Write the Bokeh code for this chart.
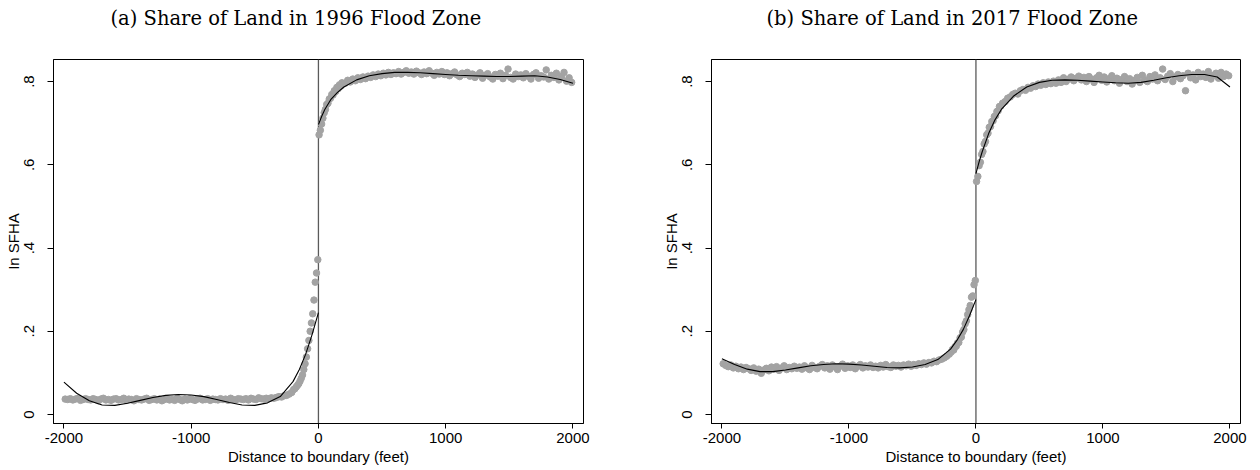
from bokeh.plotting import figure
from bokeh.layouts import row
from bokeh.models import Span, FixedTicker, Title
from bokeh.embed import file_html
from bokeh.resources import INLINE

# ---------------- data ----------------
TITLES = ["(a) Share of Land in 1996 Flood Zone", "(b) Share of Land in 2017 Flood Zone"]
X_LABEL = "Distance to boundary (feet)"
Y_LABEL = "In SFHA"
X_TICKS = [-2000, -1000, 0, 1000, 2000]
X_TICK_LABELS = ["-2000", "-1000", "0", "1000", "2000"]
Y_TICKS = [0, 0.2, 0.4, 0.6, 0.8]
Y_TICK_LABELS = ["0", ".2", ".4", ".6", ".8"]

# bin centres (feet): coarse 20-ft bins far from the boundary, 10-ft bins near it
BINS_LEFT = list(range(-1990, -209, 20)) + list(range(-195, 0, 10))
BINS_RIGHT = list(range(5, 200, 10)) + list(range(210, 2000, 20))

# panel (a) binned means
a_left = [
    0.037, 0.036, 0.038, 0.035, 0.037, 0.039, 0.034, 0.036, 0.038, 0.036,
    0.035, 0.038, 0.036, 0.033, 0.037, 0.039, 0.035, 0.036, 0.034, 0.037,
    0.038, 0.035, 0.036, 0.039, 0.034, 0.037, 0.036, 0.033, 0.038, 0.036,
    0.035, 0.037, 0.039, 0.034, 0.036, 0.038, 0.035, 0.037, 0.033, 0.036,
    0.038, 0.035, 0.036, 0.034, 0.039, 0.036, 0.033, 0.037, 0.035, 0.038,
    0.036, 0.034, 0.037, 0.039, 0.035, 0.036, 0.038, 0.034, 0.037, 0.036,
    0.035, 0.038, 0.036, 0.037, 0.034, 0.039, 0.036, 0.035, 0.038, 0.037,
    0.036, 0.038, 0.035, 0.039, 0.037, 0.036, 0.040, 0.038, 0.037, 0.039,
    0.038, 0.040, 0.039, 0.041, 0.043, 0.042, 0.045, 0.046, 0.049, 0.053,
    0.060, 0.062, 0.066, 0.070, 0.074, 0.080, 0.087, 0.095, 0.108, 0.122,
    0.138, 0.158, 0.178, 0.200, 0.220, 0.242, 0.275, 0.318, 0.340, 0.372,
]
a_right = [
    0.672, 0.683, 0.698, 0.712, 0.725, 0.733, 0.745, 0.748, 0.758, 0.760,
    0.769, 0.768, 0.778, 0.776, 0.786, 0.783, 0.792, 0.789, 0.797, 0.794,
    0.796, 0.803, 0.799, 0.806, 0.802, 0.809, 0.805, 0.811, 0.807, 0.813,
    0.810, 0.816, 0.812, 0.818, 0.814, 0.820, 0.816, 0.822, 0.817, 0.821,
    0.819, 0.824, 0.818, 0.822, 0.826, 0.820, 0.823, 0.818, 0.825, 0.821,
    0.817, 0.823, 0.819, 0.826, 0.820, 0.815, 0.822, 0.818, 0.824, 0.817,
    0.821, 0.814, 0.819, 0.823, 0.816, 0.812, 0.820, 0.817, 0.822, 0.813,
    0.818, 0.810, 0.816, 0.821, 0.808, 0.815, 0.819, 0.811, 0.806, 0.817,
    0.813, 0.820, 0.807, 0.815, 0.830, 0.810, 0.806, 0.818, 0.812, 0.816,
    0.809, 0.819, 0.813, 0.806, 0.817, 0.821, 0.808, 0.814, 0.811, 0.828,
    0.806, 0.815, 0.810, 0.820, 0.804, 0.812, 0.822, 0.801, 0.809, 0.798,
]

# panel (b) binned means
b_left = [
    0.122, 0.118, 0.115, 0.119, 0.112, 0.116, 0.110, 0.114, 0.108, 0.113,
    0.110, 0.106, 0.112, 0.104, 0.109, 0.099, 0.107, 0.111, 0.105, 0.114,
    0.109, 0.115, 0.106, 0.112, 0.117, 0.108, 0.113, 0.110, 0.116, 0.111,
    0.114, 0.109, 0.117, 0.112, 0.108, 0.118, 0.113, 0.110, 0.116, 0.120,
    0.112, 0.117, 0.109, 0.119, 0.114, 0.108, 0.116, 0.121, 0.111, 0.117,
    0.113, 0.119, 0.110, 0.116, 0.120, 0.112, 0.117, 0.114, 0.119, 0.113,
    0.116, 0.112, 0.118, 0.114, 0.120, 0.115, 0.113, 0.119, 0.116, 0.118,
    0.114, 0.119, 0.117, 0.121, 0.116, 0.120, 0.118, 0.122, 0.120, 0.124,
    0.121, 0.125, 0.124, 0.128, 0.127, 0.131, 0.133, 0.136, 0.140, 0.145,
    0.150, 0.156, 0.155, 0.163, 0.164, 0.172, 0.173, 0.184, 0.186, 0.198,
    0.204, 0.218, 0.225, 0.240, 0.252, 0.262, 0.282, 0.285, 0.312, 0.322,
]
b_right = [
    0.560, 0.572, 0.598, 0.606, 0.625, 0.632, 0.650, 0.656, 0.672, 0.676,
    0.690, 0.692, 0.704, 0.706, 0.716, 0.718, 0.728, 0.730, 0.740, 0.741,
    0.748, 0.752, 0.760, 0.763, 0.769, 0.772, 0.770, 0.778, 0.781, 0.779,
    0.786, 0.784, 0.790, 0.788, 0.794, 0.791, 0.797, 0.793, 0.799, 0.795,
    0.801, 0.796, 0.804, 0.798, 0.809, 0.800, 0.806, 0.811, 0.802, 0.808,
    0.813, 0.804, 0.810, 0.800, 0.812, 0.806, 0.798, 0.809, 0.815, 0.803,
    0.811, 0.799, 0.807, 0.814, 0.802, 0.808, 0.796, 0.805, 0.812, 0.800,
    0.807, 0.794, 0.803, 0.810, 0.798, 0.815, 0.804, 0.800, 0.812, 0.806,
    0.816, 0.802, 0.809, 0.830, 0.805, 0.813, 0.819, 0.800, 0.811, 0.817,
    0.807, 0.814, 0.778, 0.820, 0.809, 0.816, 0.804, 0.822, 0.812, 0.818,
    0.810, 0.824, 0.806, 0.815, 0.820, 0.808, 0.822, 0.812, 0.818, 0.814,
]

# fitted polynomial curves
FIT_X_LEFT = list(range(-2000, -199, 100)) + [-150, -100, -50, 0]
FIT_X_RIGHT = [0, 25, 50, 100, 150, 200] + list(range(300, 2001, 100))
a_fit_left = [0.078, 0.051, 0.033, 0.023, 0.022, 0.027, 0.034, 0.041, 0.046, 0.048,
              0.047, 0.043, 0.036, 0.029, 0.023, 0.022, 0.028, 0.043, 0.079,
              0.108, 0.145, 0.192, 0.245]
a_fit_right = [0.697, 0.716, 0.733, 0.758, 0.774, 0.787,
               0.804, 0.814, 0.819, 0.822, 0.822, 0.821, 0.819, 0.817, 0.815,
               0.814, 0.813, 0.812, 0.812, 0.813, 0.814, 0.811, 0.805, 0.796]
b_fit_left = [0.134, 0.120, 0.109, 0.103, 0.103, 0.107, 0.112, 0.117, 0.120, 0.122,
              0.121, 0.119, 0.116, 0.113, 0.112, 0.114, 0.120, 0.132, 0.157,
              0.178, 0.204, 0.238, 0.276]
b_fit_right = [0.579, 0.607, 0.632, 0.675, 0.708, 0.733,
               0.766, 0.787, 0.798, 0.803, 0.804, 0.803, 0.801, 0.799, 0.797,
               0.796, 0.798, 0.803, 0.809, 0.814, 0.817, 0.817, 0.811, 0.787]

PANELS = [
    (a_left, a_right, a_fit_left, a_fit_right),
    (b_left, b_right, b_fit_left, b_fit_right),
]

# ---------------- styling ----------------
SANS = "Liberation Sans"
SERIF = "DejaVu Serif"
DOT = "#a3a3a3"
FS = "15px"
TITLE_FS = "19.5px"


def make_panel(i, left, right, fit_l, fit_r, width, border_left, border_right, title_offset):
    p = figure(width=width, height=468, title=None,
               x_range=(-2082, 2083), y_range=(-0.0216, 0.853),
               output_backend="svg", toolbar_location=None,
               min_border_left=border_left, min_border_right=border_right,
               min_border_top=59, min_border_bottom=45,
               background_fill_color="white", border_fill_color="white")
    p.grid.visible = False
    p.outline_line_color = "black"
    p.outline_line_width = 1
    p.outline_line_alpha = 1

    # blank spacer line between the frame and the title (first added = closest to frame)
    spacer = Title(text="\u00a0", text_color="white", text_font=SERIF,
                   text_font_size=TITLE_FS, standoff=3)
    p.add_layout(spacer, "above")
    title = Title(text=TITLES[i], align="left", vertical_align="top",
                  offset=title_offset, standoff=0, text_font=SERIF,
                  text_font_size=TITLE_FS, text_font_style="normal",
                  text_color="black")
    p.add_layout(title, "above")

    vline = Span(location=0, dimension="height", line_color="#5a5a5a",
                 line_width=1.3, level="underlay")
    p.add_layout(vline)

    p.scatter(BINS_LEFT, left, size=6.5, fill_color=DOT, line_color=DOT)
    p.scatter(BINS_RIGHT, right, size=6.5, fill_color=DOT, line_color=DOT)
    p.line(FIT_X_LEFT, fit_l, line_color="black", line_width=1.1)
    p.line(FIT_X_RIGHT, fit_r, line_color="black", line_width=1.1)

    xa = p.xaxis[0]
    xa.ticker = FixedTicker(ticks=X_TICKS)
    xa.major_label_overrides = {t: s for t, s in zip(X_TICKS, X_TICK_LABELS)}
    xa.axis_label = X_LABEL
    ya = p.yaxis[0]
    ya.ticker = FixedTicker(ticks=Y_TICKS)
    ya.major_label_overrides = {t: s for t, s in zip(Y_TICKS, Y_TICK_LABELS)}
    ya.major_label_orientation = "vertical"
    ya.axis_label = Y_LABEL

    for ax in (xa, ya):
        ax.axis_line_color = "black"
        ax.major_tick_line_color = "black"
        ax.minor_tick_line_color = None
        ax.major_tick_in = 0
        ax.major_label_text_font = SANS
        ax.major_label_text_font_size = FS
        ax.major_label_text_color = "black"
        ax.axis_label_text_font = SANS
        ax.axis_label_text_font_size = FS
        ax.axis_label_text_font_style = "normal"
        ax.axis_label_text_color = "black"
    xa.major_tick_out = 5
    ya.major_tick_out = 6
    xa.major_label_standoff = 4
    xa.axis_label_standoff = 2
    ya.major_label_standoff = 13
    ya.axis_label_standoff = 0
    return p


p1 = make_panel(0, *PANELS[0], width=630, border_left=53, border_right=47, title_offset=57)
p2 = make_panel(1, *PANELS[1], width=622, border_left=81, border_right=12, title_offset=55)

layout = row(p1, p2)
open("out.html", "w").write(file_html(layout, INLINE))
